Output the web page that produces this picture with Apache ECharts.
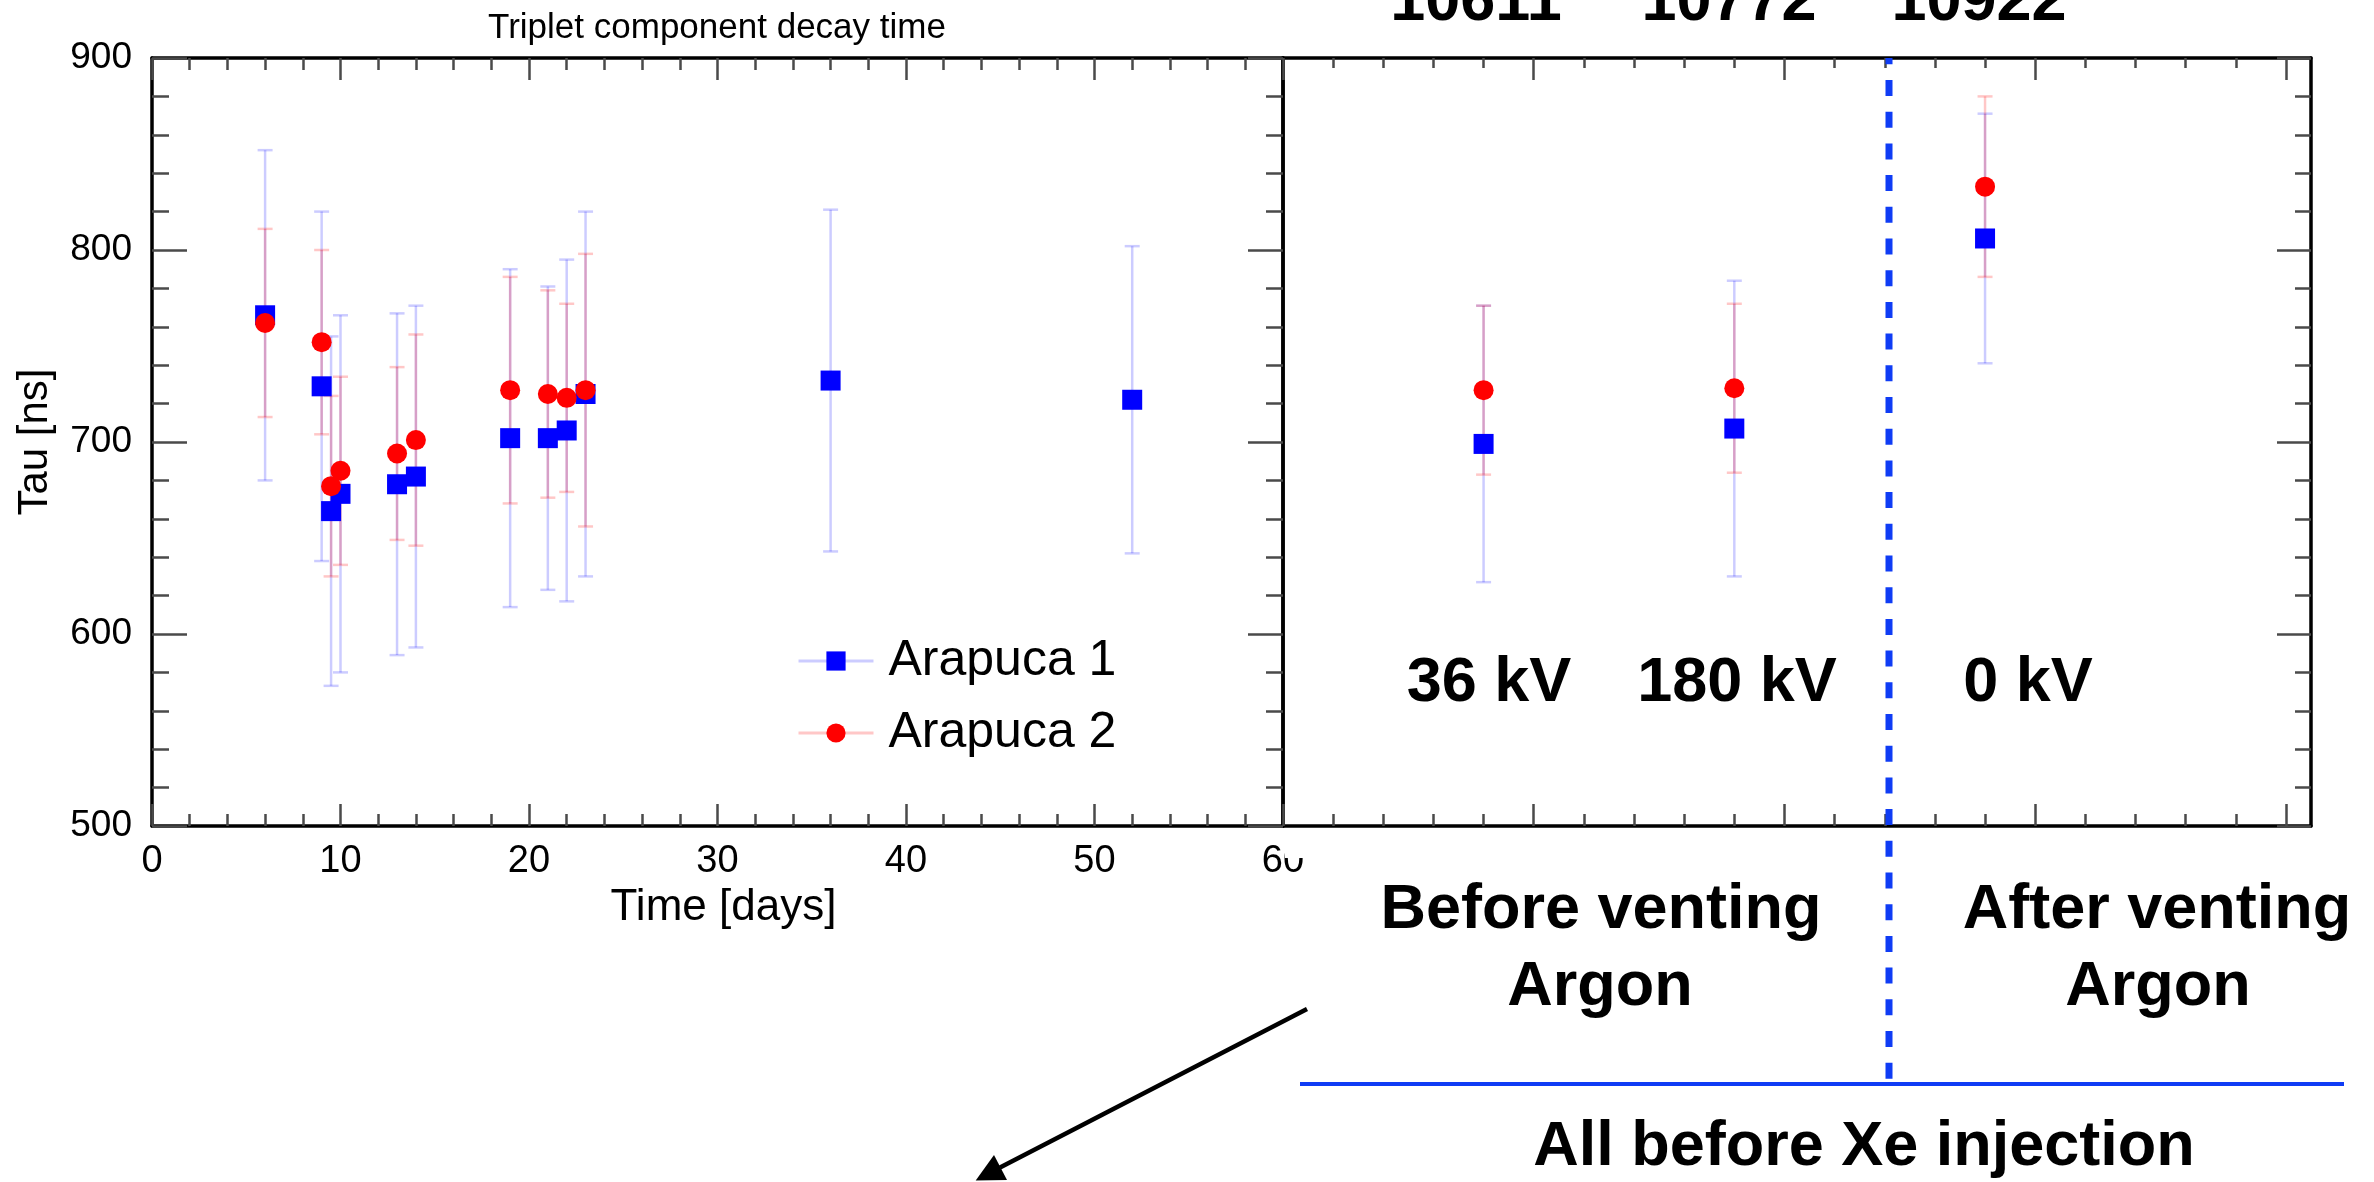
<!DOCTYPE html>
<html>
<head>
<meta charset="utf-8">
<script src="https://cdn.jsdelivr.net/npm/echarts@6/dist/echarts.min.js"></script>
<style>
html,body{margin:0;padding:0;background:#fff;}
#c{width:2374px;height:1182px;}
</style>
</head>
<body>
<div id="c"></div>
<script>
// ---- Data ----
var days1   = [6, 9, 9.5, 10, 13, 14, 19, 21, 22, 23, 36, 52];
var tau1    = [766, 729, 664, 673, 678, 682, 702, 702, 706, 725, 732, 722];
var err1    = [86, 91, 91, 93, 89, 89, 88, 79, 89, 95, 89, 80];
var days2   = [6, 9, 9.5, 10, 13, 14, 19, 21, 22, 23];
var tau2    = [762, 752, 677, 685, 694, 701, 727, 725, 723, 727];
var err2    = [49, 48, 47, 49, 45, 55, 59, 54, 49, 71];

var runPos   = [0.8, 1.8, 2.8];
var runNames = ['10611', '10772', '10922'];
var runHV    = ['36 kV', '180 kV', '0 kV'];
var runTau1  = [699, 707, 806];
var runErr1  = [72, 77, 65];
var runTau2  = [727, 728, 833];
var runErr2  = [44, 44, 47];

var rightMajorTicks = [0, 1, 2, 3, 4];
var rightMinorTicks = [0.2,0.4,0.6,0.8,1.2,1.4,1.6,1.8,2.2,2.4,2.6,2.8,3.2,3.4,3.6,3.8];

var seriesNames = ['Arapuca 1', 'Arapuca 2'];

// ---- helpers ----
function zip(a, b) { return a.map(function (v, i) { return [v, b[i]]; }); }
function zip3(a, b, c) { return a.map(function (v, i) { return [v, b[i], c[i]]; }); }

var BLUE_ERR = 'rgba(0,0,255,0.2)';
var RED_ERR = 'rgba(255,0,0,0.22)';
var FONT = '"Liberation Sans", Arial, Helvetica, sans-serif';

function errRender(color) {
  return function (params, api) {
    var x = api.value(0), y = api.value(1), e = api.value(2);
    var top = api.coord([x, y + e]);
    var bot = api.coord([x, y - e]);
    var hw = 7.5;
    var st = { stroke: color, lineWidth: 2.5 };
    return {
      type: 'group',
      children: [
        { type: 'line', shape: { x1: top[0], y1: top[1], x2: bot[0], y2: bot[1] }, style: st },
        { type: 'line', shape: { x1: top[0] - hw, y1: top[1], x2: top[0] + hw, y2: top[1] }, style: st },
        { type: 'line', shape: { x1: bot[0] - hw, y1: bot[1], x2: bot[0] + hw, y2: bot[1] }, style: st }
      ]
    };
  };
}

var tickStyle = { color: '#4a4a4a', width: 2.5 };
var frameStyle = { color: '#000', width: 3.5 };

function leftX(pos, showLabel) {
  return {
    gridIndex: 0, type: 'value', position: pos, min: 0, max: 60, interval: 10,
    axisLine: { show: true, onZero: false, lineStyle: frameStyle },
    axisTick: { show: true, inside: true, length: 22, lineStyle: tickStyle },
    minorTick: { show: true, splitNumber: 5, length: 12, lineStyle: tickStyle },
    axisLabel: { show: showLabel, fontSize: 38, color: '#000', margin: 17, fontFamily: FONT },
    splitLine: { show: false }, minorSplitLine: { show: false }
  };
}
function leftY(pos, showLabel) {
  return {
    gridIndex: 0, type: 'value', position: pos, min: 500, max: 900, interval: 100,
    axisLine: { show: true, onZero: false, lineStyle: frameStyle },
    axisTick: { show: true, inside: true, length: 35, lineStyle: tickStyle },
    minorTick: { show: true, splitNumber: 5, length: 17, lineStyle: tickStyle },
    axisLabel: { show: showLabel, fontSize: 37, color: '#000', margin: 20, fontFamily: FONT },
    splitLine: { show: false }, minorSplitLine: { show: false }
  };
}
function rightX(pos, values, len, line) {
  return {
    gridIndex: 1, type: 'value', position: pos, min: 0, max: 4.1,
    axisLine: { show: line, onZero: false, lineStyle: frameStyle },
    axisTick: { show: true, inside: true, length: len, lineStyle: tickStyle, customValues: values },
    axisLabel: { show: false },
    splitLine: { show: false }
  };
}

var xAxes = [
  leftX('bottom', true),
  leftX('top', false),
  rightX('bottom', rightMajorTicks, 22, true),
  rightX('bottom', rightMinorTicks, 12, false),
  rightX('top', rightMajorTicks, 22, true),
  rightX('top', rightMinorTicks, 10, false)
];
xAxes[0].name = 'Time [days]';
xAxes[0].nameLocation = 'middle';
xAxes[0].nameGap = 51;
xAxes[0].nameTextStyle = { fontSize: 44, color: '#000', fontFamily: FONT, padding: [0, 0, 0, 12] };

var yAxes = [
  leftY('left', true),
  leftY('right', false),
  {
    gridIndex: 1, type: 'value', position: 'left', min: 500, max: 900, interval: 100,
    axisLine: { show: true, onZero: false, lineStyle: frameStyle },
    axisTick: { show: false }, axisLabel: { show: false }, splitLine: { show: false }
  },
  {
    gridIndex: 1, type: 'value', position: 'right', min: 500, max: 900, interval: 100,
    axisLine: { show: true, onZero: false, lineStyle: frameStyle },
    axisTick: { show: true, inside: true, length: 34, lineStyle: tickStyle },
    minorTick: { show: true, splitNumber: 5, length: 16, lineStyle: tickStyle },
    axisLabel: { show: false }, splitLine: { show: false }, minorSplitLine: { show: false }
  }
];
yAxes[0].name = 'Tau [ns]';
yAxes[0].nameLocation = 'middle';
yAxes[0].nameGap = 96;
yAxes[0].nameRotate = 90;
yAxes[0].nameTextStyle = { fontSize: 42, color: '#000', fontFamily: FONT };

function markerSeries(name, data, xi, yi, symbol, color, z) {
  return {
    name: name, type: 'line', xAxisIndex: xi, yAxisIndex: yi, data: data,
    symbol: symbol, symbolSize: 20, showSymbol: true, showAllSymbol: true,
    lineStyle: { width: 0, opacity: 0, color: color },
    itemStyle: { color: color, opacity: 1 },
    emphasis: { disabled: true }, z: z, animation: false
  };
}
function errSeries(name, data, xi, yi, color) {
  return {
    name: name, type: 'custom', xAxisIndex: xi, yAxisIndex: yi, data: data,
    renderItem: errRender(color), z: 1, animation: false, silent: true
  };
}

var series = [
  markerSeries(seriesNames[0], zip(days1, tau1), 0, 0, 'rect', '#0000ff', 3),
  markerSeries(seriesNames[1], zip(days2, tau2), 0, 0, 'circle', '#ff0000', 4),
  markerSeries(seriesNames[0], zip(runPos, runTau1), 2, 2, 'rect', '#0000ff', 3),
  markerSeries(seriesNames[1], zip(runPos, runTau2), 2, 2, 'circle', '#ff0000', 4),
  errSeries(seriesNames[0] + ' error', zip3(days1, tau1, err1), 0, 0, BLUE_ERR),
  errSeries(seriesNames[1] + ' error', zip3(days2, tau2, err2), 0, 0, RED_ERR),
  errSeries(seriesNames[0] + ' error', zip3(runPos, runTau1, runErr1), 2, 2, BLUE_ERR),
  errSeries(seriesNames[1] + ' error', zip3(runPos, runTau2, runErr2), 2, 2, RED_ERR)
];

var BOLD = 'bold 63px ' + FONT;
function txt(t, x, y, font) {
  return { type: 'text', x: x, y: y, z: 50,
    style: { text: t, font: font, fill: '#000', align: 'center', verticalAlign: 'middle' } };
}
var runLabelX = [1476, 1729, 1979];
var hvLabelX = [1489, 1737, 2028];

var graphics = [
  // clip the partially hidden "60" label as in the original overlay
  { type: 'rect', z: 40, shape: { x: 1285, y: 829, width: 70, height: 29 }, style: { fill: '#fff' } },
  txt('Triplet component decay time', 717, 28, '35px ' + FONT),
  txt(runNames[0], runLabelX[0], 3, BOLD),
  txt(runNames[1], runLabelX[1], 3, BOLD),
  txt(runNames[2], runLabelX[2], 3, BOLD),
  txt(runHV[0], hvLabelX[0], 684, BOLD),
  txt(runHV[1], hvLabelX[1], 684, BOLD),
  txt(runHV[2], hvLabelX[2], 684, BOLD),
  txt('Before venting', 1601, 911, BOLD),
  txt('Argon', 1600, 988, BOLD),
  txt('After venting', 2157, 911, BOLD),
  txt('Argon', 2158, 988, BOLD),
  txt('All before Xe injection', 1864, 1148, BOLD),
  { type: 'line', z: 60, shape: { x1: 1889, y1: 58, x2: 1889, y2: 1084 },
    style: { stroke: '#0f3cf5', lineWidth: 7, lineDash: [16, 15.7], lineDashOffset: 9.7 } },
  { type: 'line', z: 60, shape: { x1: 1300, y1: 1084, x2: 2344, y2: 1084 },
    style: { stroke: '#0f3cf5', lineWidth: 4 } },
  { type: 'line', z: 60, shape: { x1: 1307, y1: 1009, x2: 1000, y2: 1167.6 },
    style: { stroke: '#000', lineWidth: 4.5 } },
  { type: 'polygon', z: 60, shape: { points: [[975.7, 1180.5], [994, 1155], [1007, 1180]] },
    style: { fill: '#000' } }
];

var chart = echarts.init(document.getElementById('c'), null, { renderer: 'canvas' });
chart.setOption({
  backgroundColor: '#fff',
  animation: false,
  grid: [
    { left: 152, top: 58, width: 1131, height: 768, containLabel: false },
    { left: 1283, top: 58, width: 1028, height: 768, containLabel: false }
  ],
  xAxis: xAxes,
  yAxis: yAxes,
  legend: {
    orient: 'vertical', left: 797, top: 636, padding: 0,
    itemWidth: 75, itemHeight: 24, itemGap: 22,
    textStyle: { fontSize: 50, color: '#000', fontFamily: FONT, padding: [0, 0, 0, 10] },
    selectedMode: false,
    data: [
      { name: seriesNames[0], lineStyle: { color: BLUE_ERR, width: 3, opacity: 1 } },
      { name: seriesNames[1], lineStyle: { color: RED_ERR, width: 3, opacity: 1 } }
    ]
  },
  series: series,
  graphic: graphics
});
</script>
</body>
</html>
